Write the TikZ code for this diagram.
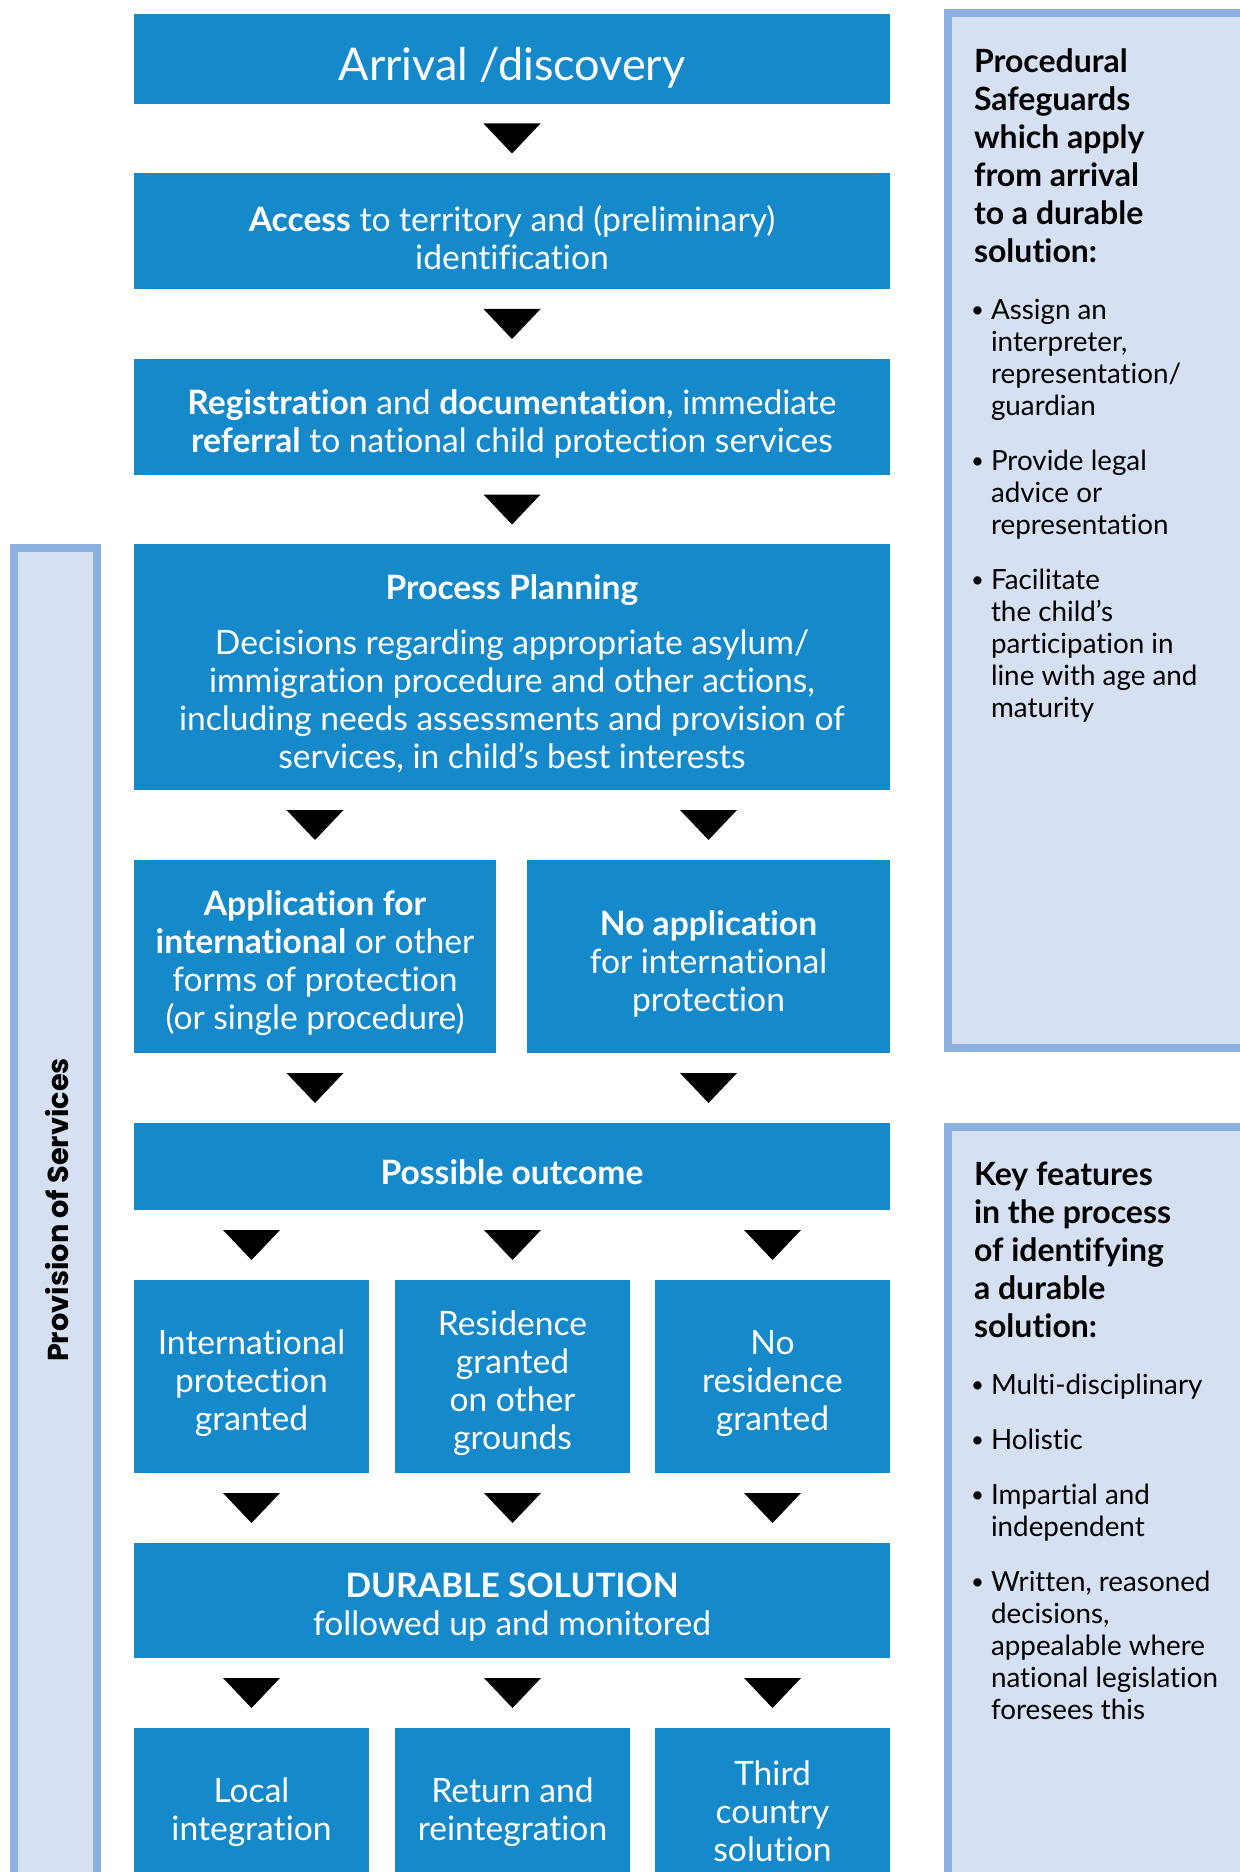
\documentclass[tikz,border=0pt]{standalone}
\usepackage{fontspec}
\setmainfont{Lato}[Ligatures=NoCommon]
\newfontfamily\popp{Poppins}
\usetikzlibrary{calc}
\definecolor{boxblue}{HTML}{1589CA}
\definecolor{panelfill}{HTML}{D5E0F2}
\definecolor{panelline}{HTML}{8CB0DF}
\tikzset{
  flowbox/.style={fill=boxblue, inner sep=0pt, outer sep=0pt},
  boxtext/.style={text=white, inner sep=0pt, outer sep=0pt, align=center,
    font=\fontsize{16.8}{19}\selectfont},
  panel/.style={fill=panelfill, draw=panelline, line width=4pt},
  paneltext/.style={anchor=base west, align=left, inner sep=0pt, outer sep=0pt, text=black},
  headtext/.style={paneltext, font=\bfseries\fontsize{16}{19}\selectfont},
  bullettext/.style={paneltext, font=\fontsize{13.9}{16}\selectfont},
  tri/.style={fill=black},
}
\newcommand{\downtri}[1]{\fill[tri] #1 ++(-28.5,-15) -- ++(57,0) -- ++(-28.5,30) -- cycle;}
\newcommand{\bul}{\llap{\raisebox{1pt}{\scalebox{0.8}{\textbullet}}\hspace{3.5pt}}}
\begin{document}
\begin{tikzpicture}[x=0.5pt,y=-0.5pt]
\useasboundingbox (0,0) rectangle (1240,1872);
\clip (0,0) rectangle (1240,1872);
\fill[white] (0,0) rectangle (1240,1872);

% side panels
\draw[panel] (947.5,13) rectangle (1262,1048);
\draw[panel] (947.5,1127) rectangle (1262,1900);
\draw[panel] (13.5,548) rectangle (97,1900);

\node[rotate=90, inner sep=0pt, font=\popp\bfseries\fontsize{14.4}{16}\selectfont] (prov) at (57,1210) {Provision of Services};

% flow boxes
\node[flowbox, minimum width=378pt, minimum height=45pt] (arr) at (512,59) {};
\node[flowbox, minimum width=378pt, minimum height=58pt] (acc) at (512,231) {};
\node[flowbox, minimum width=378pt, minimum height=58pt] (reg) at (512,417) {};
\node[flowbox, minimum width=378pt, minimum height=123pt] (plan) at (512,667) {};
\node[flowbox, minimum width=181pt, minimum height=96.5pt] (appl) at (315,956.5) {};
\node[flowbox, minimum width=181.5pt, minimum height=96.5pt] (noap) at (708.5,956.5) {};
\node[flowbox, minimum width=378pt, minimum height=43.5pt] (out) at (512,1166.5) {};
\node[flowbox, minimum width=117.5pt, minimum height=96.5pt] (ip) at (251.5,1376.5) {};
\node[flowbox, minimum width=117.5pt, minimum height=96.5pt] (rg) at (512.5,1376.5) {};
\node[flowbox, minimum width=117.5pt, minimum height=96.5pt] (nr) at (772.5,1376.5) {};
\node[flowbox, minimum width=378pt, minimum height=57.5pt] (dur) at (512,1600.5) {};
\node[flowbox, minimum width=117.5pt, minimum height=80pt] (loc) at (251.5,1808) {};
\node[flowbox, minimum width=117.5pt, minimum height=80pt] (ret) at (512.5,1808) {};
\node[flowbox, minimum width=117.5pt, minimum height=80pt] (thi) at (772.5,1808) {};

% box texts
\node[boxtext, font=\fontsize{22.5}{26}\selectfont] (arr-t) at ([yshift=-4.5pt]arr.center) {Arrival /discovery};
\node[boxtext] (acc-t) at ([yshift=-3.5pt]acc.center) {\textbf{Access} to territory and (preliminary)\\identification};
\node[boxtext] (reg-t) at ([yshift=-3.5pt]reg.center) {\textbf{Registration} and \textbf{documentation}, immediate\\\textbf{referral} to national child protection services};
\node[boxtext] (plan-t) at ([yshift=-3.5pt]plan.center) {\textbf{Process Planning}\\[8.5pt]Decisions regarding appropriate asylum/\\immigration procedure and other actions,\\including needs assessments and provision of\\services, in child’s best interests};
\node[boxtext] (appl-t) at ([yshift=-3.5pt]appl.center) {\textbf{Application for}\\\textbf{international} or other\\forms of protection\\(or single procedure)};
\node[boxtext] (noap-t) at ([yshift=-3.5pt]noap.center) {\textbf{No application}\\for international\\protection};
\node[boxtext] (out-t) at ([yshift=-3pt]out.center) {\textbf{Possible outcome}};
\node[boxtext] (ip-t) at ([yshift=-3.5pt]ip.center) {International\\protection\\granted};
\node[boxtext] (rg-t) at ([yshift=-3.5pt]rg.center) {Residence\\granted\\on other\\grounds};
\node[boxtext] (nr-t) at ([yshift=-3.5pt]nr.center) {No\\residence\\granted};
\node[boxtext] (dur-t) at ([yshift=-3.5pt]dur.center) {\textbf{DURABLE SOLUTION}\\followed up and monitored};
\node[boxtext] (loc-t) at ([yshift=-2pt]loc.center) {Local\\integration};
\node[boxtext] (ret-t) at ([yshift=-2pt]ret.center) {Return and\\reintegration};
\node[boxtext] (thi-t) at ([yshift=-1.5pt]thi.center) {Third\\country\\solution};

% arrowheads
\downtri{($(arr.south)!0.5!(acc.north)$)}
\downtri{($(acc.south)!0.5!(reg.north)$)}
\downtri{($(reg.south)!0.5!(plan.north)$)}
\downtri{($(plan.south -| appl)!0.5!(appl.north)$)}
\downtri{($(plan.south -| noap)!0.5!(noap.north)$)}
\downtri{($(appl.south)!0.5!(out.north -| appl)$)}
\downtri{($(noap.south)!0.5!(out.north -| noap)$)}
\downtri{($(out.south -| ip)!0.5!(ip.north)$)}
\downtri{($(out.south -| rg)!0.5!(rg.north)$)}
\downtri{($(out.south -| nr)!0.5!(nr.north)$)}
\downtri{($(ip.south)!0.5!(dur.north -| ip)$)}
\downtri{($(rg.south)!0.5!(dur.north -| rg)$)}
\downtri{($(nr.south)!0.5!(dur.north -| nr)$)}
\downtri{($(dur.south -| loc)!0.5!(loc.north)$)}
\downtri{($(dur.south -| ret)!0.5!(ret.north)$)}
\downtri{($(dur.south -| thi)!0.5!(thi.north)$)}

% panel texts (anchored at the baseline of the last line)
\node[headtext] (h1) at (974,263) {Procedural\\Safeguards\\which apply\\from arrival\\to a durable\\solution:};
\node[bullettext] (l1) at (991,717) {\bul Assign an\\interpreter,\\representation/\\guardian\\[11.5pt]\bul Provide legal\\advice or\\representation\\[11.5pt]\bul Facilitate\\the child’s\\participation in\\line with age and\\maturity};
\node[headtext] (h2) at (974,1337) {Key features\\in the process\\of identifying\\a durable\\solution:};
\node[bullettext] (l2) at (991,1719) {\bul Multi-disciplinary\\[11.5pt]\bul Holistic\\[11.5pt]\bul Impartial and\\independent\\[11.5pt]\bul Written, reasoned\\decisions,\\appealable where\\national legislation\\foresees this};
\end{tikzpicture}
\end{document}
